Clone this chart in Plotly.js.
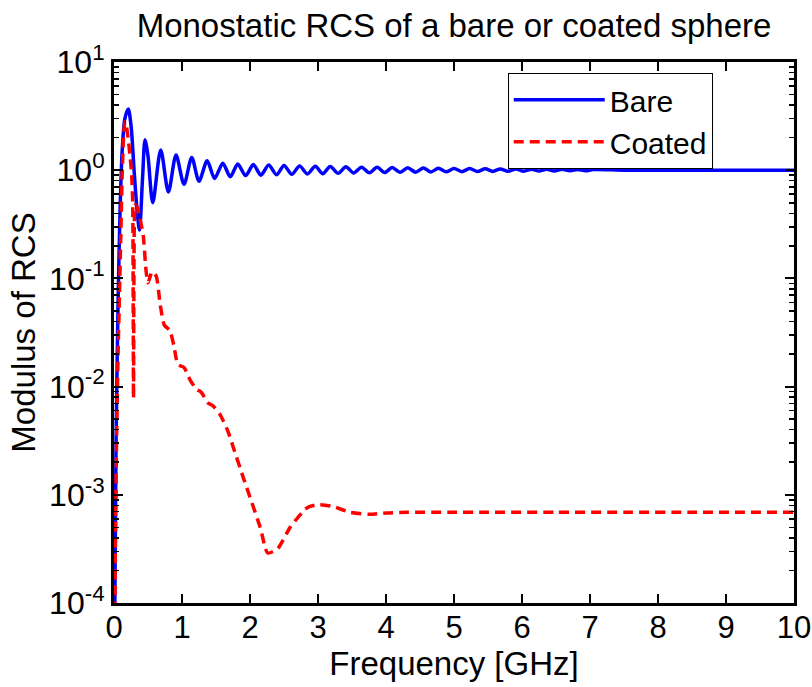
<!DOCTYPE html>
<html>
<head>
<meta charset="utf-8">
<script src="https://cdn.plot.ly/plotly-3.0.1.min.js"></script>
<style>html,body{margin:0;padding:0;background:#fff;}#chart{width:812px;height:687px;}</style>
</head>
<body>
<div id="chart"></div>
<script>
// Bare sphere: frequency [GHz] and modulus of RCS
const bareFreq = [0.01, 0.03, 0.06, 0.09, 0.12, 0.16, 0.21, 0.25, 0.30, 0.34, 0.375, 0.42, 0.456, 0.50, 0.57,
  0.687, 0.80, 0.912, 1.03, 1.143, 1.25, 1.37, 1.48, 1.60, 1.71, 1.82, 1.935, 2.05, 2.16, 2.275, 2.39, 2.50,
  2.615, 2.73, 2.845, 2.96, 3.07, 3.18, 3.295, 3.41, 3.525, 3.64, 3.755, 3.87, 3.98, 4.09, 4.205, 4.32, 4.435,
  4.55, 4.66, 4.77, 4.885, 5.00, 5.115, 5.23, 5.345, 5.46, 5.57, 5.68, 5.795, 5.91, 6.025, 6.14, 6.25, 6.36,
  6.475, 6.59, 6.705, 6.82, 6.935, 7.05, 7.5, 8.0, 8.5, 9.0, 9.5, 10.0];
const bareRcs = [6e-5, 0.003, 0.06, 0.45, 1.5, 3.0, 3.68, 2.6, 0.9, 0.42, 0.28, 0.85, 1.91, 1.35, 0.50,
  1.54, 0.63, 1.38, 0.74, 1.31, 0.79, 1.22, 0.84, 1.16, 0.87, 1.14, 0.891, 1.127, 0.90, 1.117, 0.908, 1.107,
  0.916, 1.096, 0.923, 1.089, 0.929, 1.081, 0.935, 1.074, 0.942, 1.067, 0.946, 1.062, 0.951, 1.057, 0.955, 1.052, 0.959,
  1.047, 0.964, 1.042, 0.966, 1.038, 0.970, 1.035, 0.973, 1.030, 0.975, 1.028, 0.977, 1.026, 0.979, 1.023, 0.982, 1.021,
  0.984, 1.019, 0.986, 1.016, 0.989, 1.014, 1.0, 1.0, 1.0, 1.0, 1.0, 1.0];

// Coated sphere
const coatFreq = [0.01, 0.02, 0.04, 0.06, 0.08, 0.10, 0.12, 0.14, 0.16, 0.18, 0.21, 0.235, 0.26, 0.275, 0.287,
  0.30, 0.315, 0.34, 0.38, 0.43, 0.47, 0.50, 0.56, 0.62, 0.68, 0.74, 0.82, 0.88, 0.94, 1.03, 1.12, 1.21, 1.28,
  1.38, 1.46, 1.56, 1.68, 1.75, 1.90, 2.00, 2.15, 2.26, 2.41, 2.59, 2.84, 3.00, 3.22, 3.47, 3.76, 4.01, 4.31,
  4.94, 5.5, 6.5, 7.5, 8.5, 10.0];
const coatRcs = [3e-5, 3e-4, 4e-3, 0.02, 0.07, 0.25, 0.9, 2.0, 2.8, 2.6, 1.9, 1.38, 0.9, 0.5, 0.0078,
  0.35, 0.48, 0.457, 0.36, 0.25, 0.12, 0.091, 0.115, 0.105, 0.057, 0.037, 0.033, 0.024, 0.016, 0.015, 0.0115, 0.0095, 0.0089,
  0.0071, 0.0066, 0.0055, 0.0038, 0.0028, 0.00145, 0.00095, 0.0005, 0.00029, 0.00032, 0.0005, 0.00076, 0.00081, 0.00078,
  0.00069, 0.00066, 0.00068, 0.00069, 0.00069, 0.00069, 0.00069, 0.00069, 0.00069, 0.00069];

const seriesNames = ['Bare', 'Coated'];
const xTickVals = [0, 1, 2, 3, 4, 5, 6, 7, 8, 9, 10];
const yExponents = [-4, -3, -2, -1, 0, 1];

const yTickVals = yExponents.map(e => Math.pow(10, e));
const yTickText = yExponents.map(e => '10<sup>' + (e < 0 ? '-' + Math.abs(e) : e) + '</sup>');
const minorVals = [];
for (let i = 0; i < yExponents.length - 1; i++) {
  for (let m = 2; m <= 9; m++) minorVals.push(m * Math.pow(10, yExponents[i]));
}

const FONT = 'Liberation Sans, Arial, sans-serif';

const traces = [
  {x: bareFreq, y: bareRcs, name: seriesNames[0], type: 'scatter', mode: 'lines',
   line: {color: '#0000ff', width: 3.5, shape: 'spline', smoothing: 0.8}},
  {x: coatFreq, y: coatRcs, name: seriesNames[1], type: 'scatter', mode: 'lines',
   line: {color: '#ff0000', width: 3.5, dash: '10px,6px', shape: 'spline', smoothing: 0.6}}
];

const layout = {
  width: 812, height: 687,
  margin: {l: 114, r: 18, t: 62, b: 84},
  paper_bgcolor: '#ffffff', plot_bgcolor: '#ffffff',
  font: {family: FONT, color: '#000', size: 30},
  title: {text: 'Monostatic RCS of a bare or coated sphere', font: {family: FONT, size: 33, color: '#000'},
          x: 0.5, xref: 'paper', xanchor: 'center', y: 1 - 25/687, yref: 'container', yanchor: 'middle'},
  showlegend: true,
  legend: {x: 0.579, y: 0.98, xanchor: 'left', yanchor: 'top', bgcolor: '#ffffff',
           bordercolor: '#000', borderwidth: 1, font: {family: FONT, size: 30, color: '#000'},
           itemwidth: 91, tracegroupgap: 0},
  xaxis: {range: [0, 10], tickvals: xTickVals, ticktext: xTickVals.map(String), tickmode: 'array',
          ticks: 'inside', ticklen: 9, tickwidth: 2, tickcolor: '#000', ticklabelstandoff: -5,
          showline: true, linecolor: '#000', linewidth: 3, mirror: 'ticks',
          showgrid: false, zeroline: false, tickfont: {family: FONT, size: 31, color: '#000'},
          title: {text: 'Frequency [GHz]', font: {family: FONT, size: 33, color: '#000'}, standoff: 1}},
  yaxis: {type: 'log', range: [-4, 1], tickmode: 'array', tickvals: yTickVals, ticktext: yTickText,
          ticks: 'inside', ticklen: 9, tickwidth: 2, tickcolor: '#000',
          minor: {tickmode: 'array', tickvals: minorVals, ticks: 'inside', ticklen: 5, tickwidth: 1.5, tickcolor: '#000', showgrid: false},
          showline: true, linecolor: '#000', linewidth: 3, mirror: 'ticks',
          showgrid: false, zeroline: false, tickfont: {family: FONT, size: 32, color: '#000'},
          title: {text: 'Modulus of RCS', font: {family: FONT, size: 33, color: '#000'}, standoff: 4}}
};

Plotly.newPlot('chart', traces, layout, {displayModeBar: false, staticPlot: true});
</script>
</body>
</html>
